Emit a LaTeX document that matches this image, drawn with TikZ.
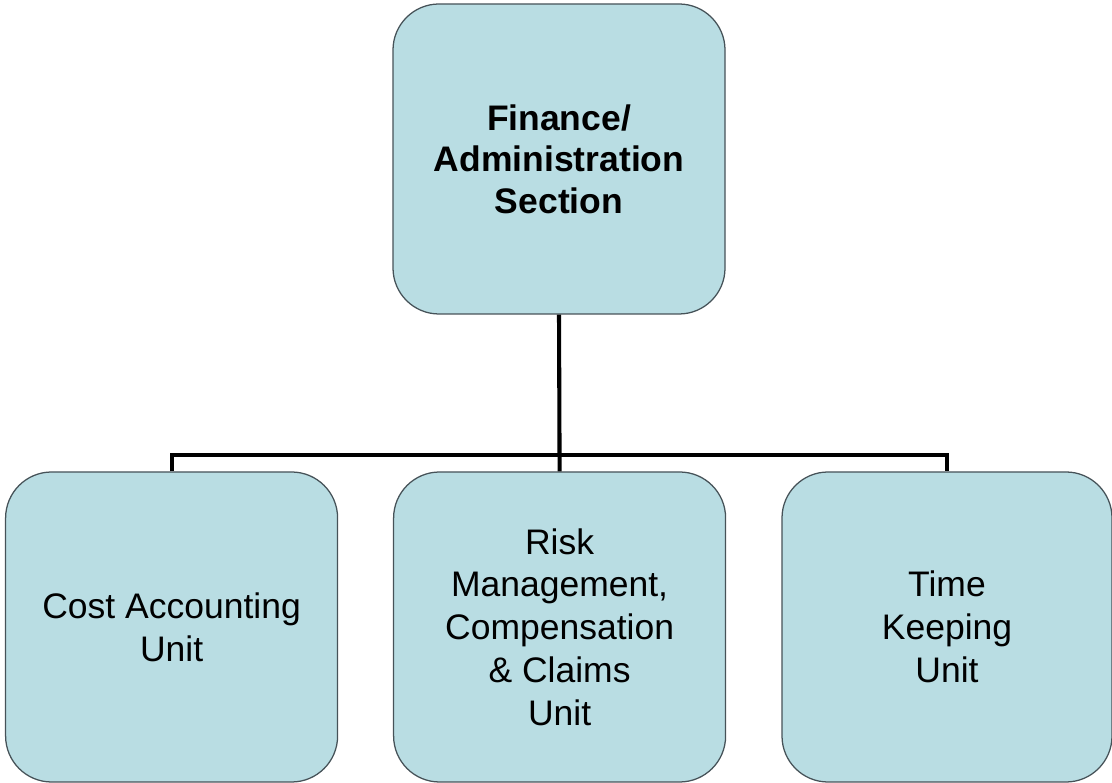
\documentclass[tikz,border=0pt]{standalone}
\usepackage{fontspec}
\setmainfont{Liberation Sans}
\usetikzlibrary{calc, positioning}
\definecolor{unitfill}{RGB}{185,221,227}
\definecolor{unitedge}{RGB}{70,82,88}

\begin{document}
\begin{tikzpicture}[
    unitbox/.style={draw=unitedge, line width=0.9pt, fill=unitfill,
      rounded corners=1.15cm, minimum width=8.3cm, minimum height=7.75cm,
      inner sep=0pt, align=center, font=\fontsize{25.25}{30.4}\selectfont},
    link/.style={black, line width=2.9pt}]
    \useasboundingbox (0,0) rectangle (27.8,19.575);

    % --- Section box ---
    \node[unitbox, minimum height=7.75cm, font=\fontsize{25.25}{29.4}\selectfont\bfseries]
      (section) at (13.975,15.6) {Finance/\\Administration\\Section};

    % --- Unit boxes ---
    \node[unitbox] (cost) at (4.29,3.9) {Cost Accounting\\Unit};
    \node[unitbox] (risk) at (13.99,3.9)
      {Risk\\Management,\\Compensation\\\& Claims\\Unit};
    \node[unitbox, minimum width=8.25cm] (time) at (23.675,3.9) {Time\\Keeping\\Unit};

    % --- Connectors ---
    \coordinate (bus) at (section.south |- 0,8.2);
    \draw[link] (section.south) -- (risk.north);
    \draw[link] (cost.north) |- (bus) -| (time.north);
  \end{tikzpicture}
\end{document}
